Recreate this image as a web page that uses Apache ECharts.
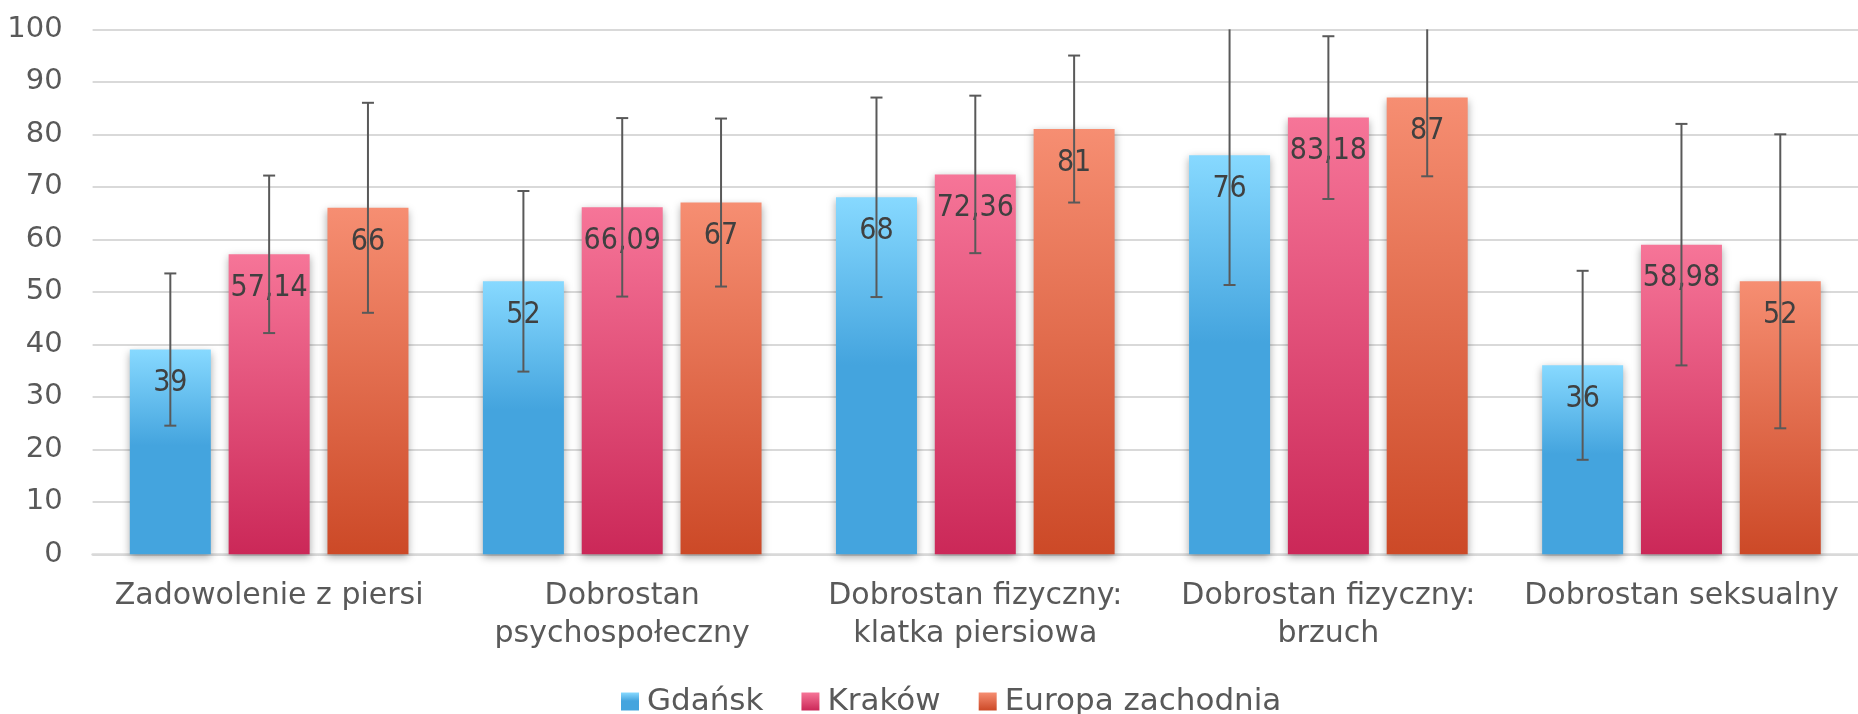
<!DOCTYPE html>
<html><head><meta charset="utf-8">
<script src="https://cdn.jsdelivr.net/npm/echarts@6/dist/echarts.min.js"></script>
<style>html,body{margin:0;padding:0;background:#fff;overflow:hidden}#c{width:1858px;height:714px}</style>
</head><body><div id="c"></div>
<script>
// ---- data ----
const categories = ['Zadowolenie z piersi', 'Dobrostan\npsychospołeczny', 'Dobrostan fizyczny:\nklatka piersiowa', 'Dobrostan fizyczny:\nbrzuch', 'Dobrostan seksualny'];
const seriesNames = ['Gdańsk', 'Kraków', 'Europa zachodnia'];
const gdansk = [39, 52, 68, 76, 36];
const krakow = [57.14, 66.09, 72.36, 83.18, 58.98];
const europa = [66, 67, 81, 87, 52];
const gdanskErr = [14.5, 17.2, 19, 24.7, 18];
const krakowErr = [15, 17, 15, 15.5, 23];
const europaErr = [20, 16, 14, 15, 28];
const yMin = 0, yMax = 100, yInterval = 10;

// ---- style ----
const BAR_W = 81, GAP_RATIO = 0.22;
const STEP = BAR_W * (1 + GAP_RATIO);
const FONT = '"DejaVu Sans", sans-serif';
const LABEL_FONT = '"DejaVu Sans Condensed", "DejaVu Sans", sans-serif';
const G = echarts.graphic.LinearGradient;
const fills = [
  new G(0, 0, 0, 1, [{offset: 0, color: '#87d9ff'}, {offset: 0.47, color: '#44a4de'}, {offset: 1, color: '#44a4de'}]),
  new G(0, 0, 0, 1, [{offset: 0, color: '#f67598'}, {offset: 1, color: '#cb2858'}]),
  new G(0, 0, 0, 1, [{offset: 0, color: '#f68e72'}, {offset: 1, color: '#cc4927'}])
];
const values = [gdansk, krakow, europa];
const errs = [gdanskErr, krakowErr, europaErr];

function barSeries(k) {
  return {
    name: seriesNames[k], type: 'bar', data: values[k],
    barWidth: BAR_W, barGap: (GAP_RATIO * 100) + '%',
    itemStyle: {color: fills[k], shadowBlur: 8, shadowColor: 'rgba(0,0,0,0.35)', shadowOffsetY: 3},
    label: {
      show: true, position: 'insideTop', distance: 19,
      fontFamily: LABEL_FONT, fontSize: 30, lineHeight: 30, color: '#404040',
      formatter: p => String(p.value).replace('.', ',')
    },
    z: 2
  };
}
function errSeries(k) {
  const offset = (k - 1) * STEP;
  return {
    type: 'custom', name: seriesNames[k] + ' err', z: 5, silent: true,
    data: values[k].map((v, i) => [i, v, errs[k][i]]),
    encode: {x: 0, y: 1},
    renderItem: function (params, api) {
      const i = api.value(0), v = api.value(1), e = api.value(2);
      const hiV = Math.min(v + e, yMax), loV = Math.max(v - e, yMin);
      const pHi = api.coord([i, hiV]), pLo = api.coord([i, loV]);
      const x = pHi[0] + offset;
      const st = {stroke: '#595959', lineWidth: 2};
      const ch = [{type: 'line', shape: {x1: x, y1: pHi[1], x2: x, y2: pLo[1]}, style: st}];
      if (v + e <= yMax) ch.push({type: 'line', shape: {x1: x - 6, y1: pHi[1], x2: x + 6, y2: pHi[1]}, style: st});
      ch.push({type: 'line', shape: {x1: x - 6, y1: pLo[1], x2: x + 6, y2: pLo[1]}, style: st});
      return {type: 'group', children: ch};
    }
  };
}

const chart = echarts.init(document.getElementById('c'), null, {renderer: 'canvas'});
chart.setOption({
  animation: false,
  backgroundColor: '#fff',
  grid: {left: 92.6, right: -20.6, top: 29.3, bottom: 159.7, containLabel: false},
  legend: {
    data: seriesNames, left: 616, top: 681,
    icon: 'rect', itemWidth: 18, itemHeight: 18, itemGap: 38,
    textStyle: {fontFamily: FONT, fontSize: 31, color: '#595959', padding: [0, 0, 0, 3]}
  },
  xAxis: {
    type: 'category', data: categories,
    axisLine: {lineStyle: {color: '#d9d9d9', width: 2.5}},
    axisTick: {show: false},
    axisLabel: {interval: 0, fontFamily: FONT, fontSize: 30, lineHeight: 38, color: '#595959', margin: 23}
  },
  yAxis: {
    type: 'value', min: yMin, max: yMax, interval: yInterval,
    axisLine: {show: false}, axisTick: {show: false},
    splitLine: {lineStyle: {color: '#d9d9d9', width: 2}},
    axisLabel: {fontFamily: FONT, fontSize: 29, color: '#595959', margin: 30}
  },
  series: [barSeries(0), barSeries(1), barSeries(2), errSeries(0), errSeries(1), errSeries(2)]
});
</script></body></html>
